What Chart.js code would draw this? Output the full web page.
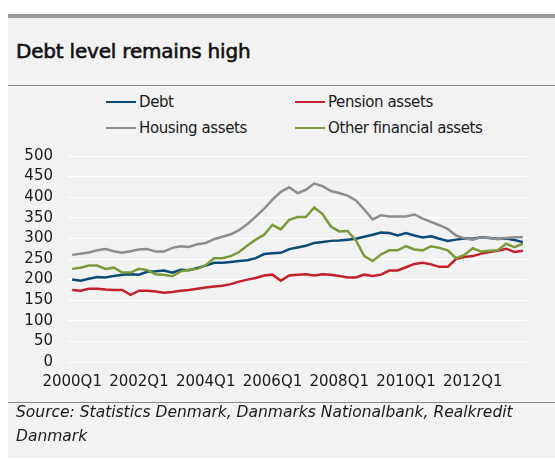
<!DOCTYPE html>
<html>
<head>
<meta charset="utf-8">
<script src="https://cdn.jsdelivr.net/npm/chart.js@4.4.1/dist/chart.umd.min.js"></script>
<style>
  html, body { margin:0; padding:0; background:#fff; }
  body { width:555px; height:464px; position:relative; overflow:hidden; font-family:"DejaVu Sans", sans-serif; color:#1a1a1a; }
  .panel { position:absolute; left:8px; top:14px; width:547px; height:444px; background:#f2f2f2; border-top:4px solid #999; box-sizing:border-box; }
  .title { position:absolute; left:16px; top:39px; font-size:20px; line-height:24px; letter-spacing:-0.2px; -webkit-text-stroke:0.6px #111; color:#111; white-space:nowrap; }
  .rule { position:absolute; left:8px; width:547px; height:1px; background:#8a8a8a; }
  .legend { position:absolute; font-size:15px; line-height:20px; color:#1a1a1a; }
  .legend .item { position:absolute; display:flex; align-items:center; white-space:nowrap; letter-spacing:-0.4px; }
  .legend .swatch { width:30px; height:2.5px; margin-right:3px; }
  .source { position:absolute; left:16px; top:400px; width:535px; font-size:15.5px; line-height:24px; font-style:italic; color:#1a1a1a; }
  #wrap { position:absolute; left:8px; top:132px; width:547px; height:270px; }
</style>
</head>
<body>
<div class="panel"></div>
<div class="title">Debt level remains high</div>
<div class="rule" style="top:85px"></div>
<div class="legend" id="legend"></div>
<div id="wrap"><canvas id="chart"></canvas></div>
<div class="rule" style="top:402px"></div>
<div class="source">Source: Statistics Denmark, Danmarks Nationalbank, Realkredit<br>Danmark</div>

<script>
/* ---------- data (index, quarterly) ---------- */
const quarters = [
  '2000Q1','2000Q2','2000Q3','2000Q4','2001Q1','2001Q2','2001Q3','2001Q4',
  '2002Q1','2002Q2','2002Q3','2002Q4','2003Q1','2003Q2','2003Q3','2003Q4',
  '2004Q1','2004Q2','2004Q3','2004Q4','2005Q1','2005Q2','2005Q3','2005Q4',
  '2006Q1','2006Q2','2006Q3','2006Q4','2007Q1','2007Q2','2007Q3','2007Q4',
  '2008Q1','2008Q2','2008Q3','2008Q4','2009Q1','2009Q2','2009Q3','2009Q4',
  '2010Q1','2010Q2','2010Q3','2010Q4','2011Q1','2011Q2','2011Q3','2011Q4',
  '2012Q1','2012Q2','2012Q3','2012Q4','2013Q1','2013Q2','2013Q3'
];
const tickLabels = ['2000Q1','2002Q1','2004Q1','2006Q1','2008Q1','2010Q1','2012Q1'];
const yTicks = [0, 50, 100, 150, 200, 250, 300, 350, 400, 450, 500];

const debt = [200,197,202,206,205,209,212,213,212,219,220,222,217,224,223,228,234,241,241,243,
              245,247,252,262,264,265,274,278,282,289,291,294,295,297,299,304,309,314,313,307,
              313,307,302,305,299,294,297,300,299,303,301,299,300,296,291];
const pension = [175,173,178,178,176,175,175,163,173,173,171,168,170,173,175,178,181,183,185,189,
                 195,200,204,210,212,197,210,212,213,210,213,212,209,205,205,212,209,212,222,222,
                 230,238,241,237,231,231,250,255,257,263,267,270,275,267,270];
const housing = [260,263,266,271,274,269,265,269,273,274,268,268,277,281,279,286,289,298,304,310,
                 320,335,353,372,394,413,424,410,418,433,427,415,410,404,392,370,346,356,353,353,
                 353,358,348,340,332,323,307,300,297,303,301,298,301,303,303];
const otherFin = [226,229,234,234,226,229,217,217,226,223,213,212,208,220,224,226,235,252,252,257,
                  267,283,297,309,333,322,345,352,352,375,359,329,317,318,295,257,245,261,271,271,
                  281,273,271,281,277,271,252,260,276,268,270,271,287,279,287];

const seriesNames  = ['Debt', 'Pension assets', 'Housing assets', 'Other financial assets'];
const seriesColors = ['#0b4a74', '#c41f2b', '#8d8d8d', '#7b9a3a'];
const seriesData   = [debt, pension, housing, otherFin];

/* ---------- legend (two columns) ---------- */
const legendPos = [
  { left:106, top:92 },  { left:295, top:92 },
  { left:106, top:118 }, { left:295, top:118 }
];
const legend = document.getElementById('legend');
seriesNames.forEach((name, i) => {
  const item = document.createElement('div');
  item.className = 'item';
  item.style.left = legendPos[i].left + 'px';
  item.style.top  = legendPos[i].top + 'px';
  item.innerHTML = '<span class="swatch" style="background:' + seriesColors[i] + '"></span>' + name;
  legend.appendChild(item);
});

/* ---------- chart ---------- */
const tickFont = { family:'"DejaVu Sans", sans-serif', size:15 };

new Chart(document.getElementById('chart').getContext('2d'), {
  type: 'line',
  data: {
    labels: quarters,
    datasets: seriesNames.map((name, i) => ({
      label: name,
      data: seriesData[i],
      borderColor: seriesColors[i],
      backgroundColor: seriesColors[i],
      borderWidth: 2.5,
      pointRadius: 0,
      tension: 0,
      order: 4 - i,
    }))
  },
  options: {
    responsive: true, maintainAspectRatio: false,
    animation: false,
    layout: { padding: { top:5, right:28, bottom:0, left:0 } },
    plugins: { legend: { display:false }, tooltip: { enabled:false } },
    scales: {
      x: {
        offset: true,
        grid: { display:false },
        border: { display:false },
        afterFit: s => { s.height = 40; },
        ticks: {
          autoSkip: false, maxRotation: 0, minRotation: 0,
          padding: 3, color:'#1a1a1a', font: tickFont,
          callback: function(v){
            const lab = this.getLabelForValue(v);
            return tickLabels.includes(lab) ? lab : '';
          }
        }
      },
      y: {
        min: 0, max: 500,
        afterFit: s => { s.width = 60; },
        afterBuildTicks: s => { s.ticks = yTicks.map(v => ({ value:v })); },
        grid: { color:'#ffffff', lineWidth:1, drawTicks:false },
        border: { display:false },
        ticks: { autoSkip:false, padding: 15, color:'#1a1a1a', font: tickFont }
      }
    }
  }
});
</script>
</body>
</html>
